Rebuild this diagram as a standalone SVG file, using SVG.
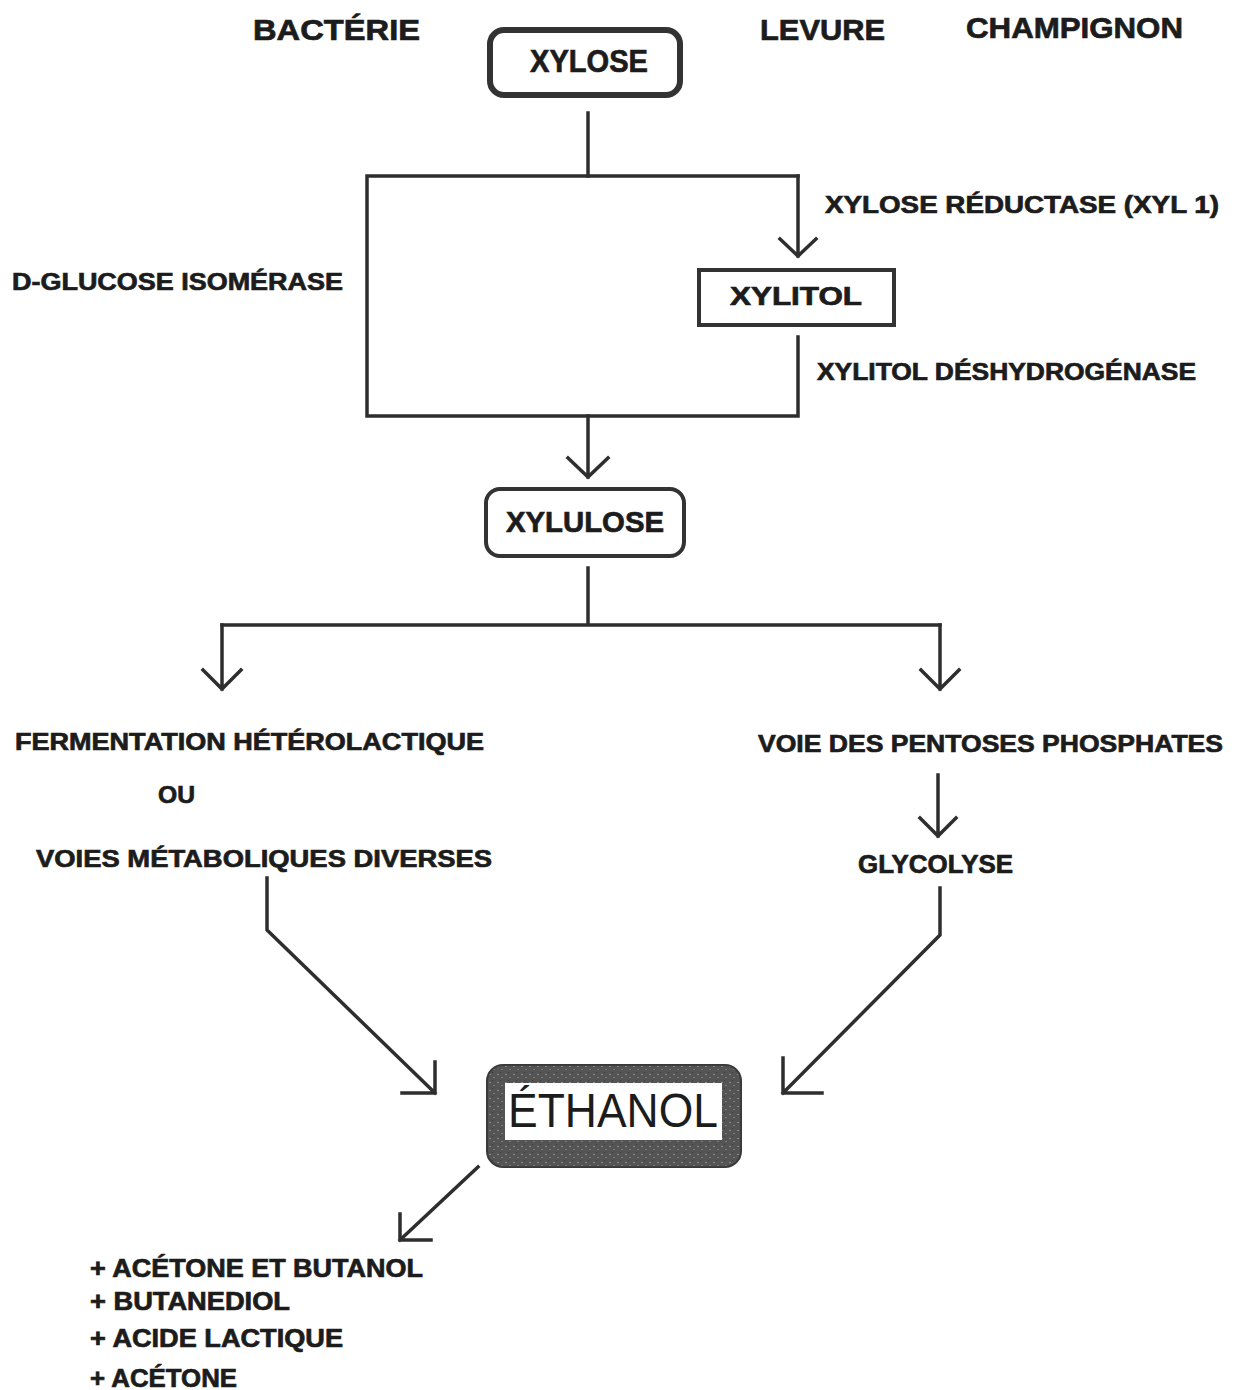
<svg xmlns="http://www.w3.org/2000/svg" width="1242" height="1390" viewBox="0 0 1242 1390">
<defs>
<style>
.t{font-family:"Liberation Sans",Arial,sans-serif;font-weight:bold;fill:#1c1c1c;stroke:#1c1c1c;stroke-width:0.7;}
.l{fill:none;stroke:#2e2e2e;stroke-width:3.5;stroke-linecap:square;stroke-linejoin:miter;}
.box{fill:#fff;stroke:#333;}
</style>
<pattern id="speck" width="8" height="8" patternUnits="userSpaceOnUse">
<rect width="8" height="8" fill="#545454"/>
<rect x="1" y="2" width="2" height="1" fill="#8a8a8a"/>
<rect x="5" y="5" width="2" height="1" fill="#7a7a7a"/>
<rect x="4" y="0" width="1" height="1" fill="#3a3a3a"/>
</pattern>
</defs>
<rect width="1242" height="1390" fill="#fff"/>

<g id="headers">
<text class="t" x="253" y="40" font-size="30" textLength="167" lengthAdjust="spacingAndGlyphs">BACTÉRIE</text>
<text class="t" x="760" y="40" font-size="30" textLength="125" lengthAdjust="spacingAndGlyphs">LEVURE</text>
<text class="t" x="966" y="38" font-size="30" textLength="217" lengthAdjust="spacingAndGlyphs">CHAMPIGNON</text>
</g>

<g id="node-xylose">
<rect class="box" x="490" y="30" width="190" height="65" rx="14" stroke-width="6"/>
<text class="t" x="530" y="72" font-size="32" textLength="118" lengthAdjust="spacingAndGlyphs">XYLOSE</text>
</g>

<g id="node-xylitol">
<rect class="box" x="699" y="270" width="195" height="55" stroke-width="4"/>
<text class="t" x="730" y="305" font-size="25" textLength="132" lengthAdjust="spacingAndGlyphs">XYLITOL</text>
</g>

<g id="node-xylulose">
<rect class="box" x="486" y="489" width="198" height="67" rx="14" stroke-width="4"/>
<text class="t" x="506" y="532" font-size="30" textLength="158" lengthAdjust="spacingAndGlyphs">XYLULOSE</text>
</g>

<g id="node-ethanol">
<rect x="487" y="1065" width="254" height="102" rx="16" fill="url(#speck)" stroke="#3a3a3a" stroke-width="2"/>
<rect x="505" y="1083" width="217" height="57" fill="#fff"/>
<text x="508" y="1127" font-family="Liberation Sans, Arial, sans-serif" font-size="48" fill="#1c1c1c" textLength="210" lengthAdjust="spacingAndGlyphs">ÉTHANOL</text>
</g>

<g id="labels">
<text class="t" x="825" y="213" font-size="24" textLength="394" lengthAdjust="spacingAndGlyphs">XYLOSE RÉDUCTASE (XYL 1)</text>
<text class="t" x="12" y="290" font-size="24" textLength="331" lengthAdjust="spacingAndGlyphs">D-GLUCOSE ISOMÉRASE</text>
<text class="t" x="817" y="380" font-size="24" textLength="379" lengthAdjust="spacingAndGlyphs">XYLITOL DÉSHYDROGÉNASE</text>
<text class="t" x="15" y="750" font-size="24" textLength="469" lengthAdjust="spacingAndGlyphs">FERMENTATION HÉTÉROLACTIQUE</text>
<text class="t" x="158" y="803" font-size="24" textLength="37" lengthAdjust="spacingAndGlyphs">OU</text>
<text class="t" x="36" y="867" font-size="24" textLength="456" lengthAdjust="spacingAndGlyphs">VOIES MÉTABOLIQUES DIVERSES</text>
<text class="t" x="758" y="752" font-size="24" textLength="465" lengthAdjust="spacingAndGlyphs">VOIE DES PENTOSES PHOSPHATES</text>
<text class="t" x="858" y="873" font-size="25" textLength="155" lengthAdjust="spacingAndGlyphs">GLYCOLYSE</text>
<text class="t" x="90" y="1277" font-size="25" textLength="333" lengthAdjust="spacingAndGlyphs">+ ACÉTONE ET BUTANOL</text>
<text class="t" x="90" y="1310" font-size="25" textLength="200" lengthAdjust="spacingAndGlyphs">+ BUTANEDIOL</text>
<text class="t" x="90" y="1347" font-size="25" textLength="253" lengthAdjust="spacingAndGlyphs">+ ACIDE LACTIQUE</text>
<text class="t" x="90" y="1387" font-size="25" textLength="147" lengthAdjust="spacingAndGlyphs">+ ACÉTONE</text>
</g>

<g id="connectors">
<path class="l" d="M588 113 V176"/>
<path class="l" d="M367 176 H798 M367 176 V416 H798 V337"/>
<path class="l" d="M798 176 V256 M780 239 L798 256 L816 239"/>
<path class="l" d="M588 416 V477 M568 458 L588 477 L608 458"/>
<path class="l" d="M588 568 V625 M222 625 H940"/>
<path class="l" d="M222 625 V689 M203 670 L222 689 L241 670"/>
<path class="l" d="M940 625 V689 M921 670 L940 689 L959 670"/>
<path class="l" d="M938 775 V836 M920 818 L938 836 L956 818" stroke-width="4.5"/>
<path class="l" d="M267 878 V930 L435 1093 M435 1062 V1093 H402"/>
<path class="l" d="M940 888 V935 L783 1093 M783 1058 V1093 H822"/>
<path class="l" d="M478 1167 L400 1240 M400 1214 V1240 H431"/>
</g>
</svg>
